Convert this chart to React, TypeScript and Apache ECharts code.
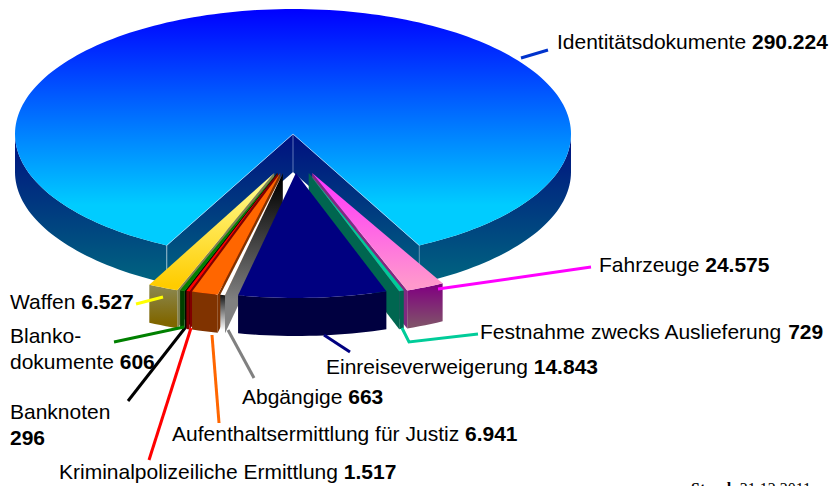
import React, { useEffect, useRef } from "react";
import * as echarts from "echarts";

const categories = [
  "Identitätsdokumente", "Fahrzeuge", "Festnahme zwecks Auslieferung", "Einreiseverweigerung",
  "Abgängige", "Aufenthaltsermittlung für Justiz", "Kriminalpolizeiliche Ermittlung",
  "Banknoten", "Blanko-\ndokumente", "Waffen",
];
const values = [290224, 24575, 729, 14843, 663, 6941, 1517, 296, 606, 6527];
// Angular width of each wedge as drawn in the picture (degrees); the picture is not proportional.
const drawnDegrees = [306, 8, 1, 31, 1, 5.5, 0.7, 0.2, 1, 6.3];
const lineBreakBeforeValue = [false, false, false, false, false, false, false, true, false, false];

// ---- geometry of the pseudo 3D pie ----
const CX = 293, CY = 134, RX = 278, RY = 125, DEPTH = 38;
const EXPLODE_X = 47, APEX_Y = 173, FIRST_ANGLE = 28;
const rad = (d: number) => (d * Math.PI) / 180;
const fmt = (v: number) => String(v).replace(/\B(?=(\d{3})+$)/g, ".");

const grad = (y0: number, y1: number, a: string, b: string) => ({
  type: "linear", x: 0, y: y0, x2: 0, y2: y1, global: true,
  colorStops: [{ offset: 0, color: a }, { offset: 1, color: b }],
});

const sliceStyles: any[] = [
  { top: grad(9, 205, "#0000ff", "#00ccff"), wall: grad(134, 285, "#001080", "#006680") },
  { top: grad(173, 285, "#ff33ff", "#ff99cc"), side: "#802a80", outer: grad(285, 325, "#800080", "#80506a") },
  { top: "#00cc99", side: "#006650", outer: "#006650" },
  { top: "#000080", side: "#000040", outer: "#000040" },
  { top: "#ffffff", side: grad(180, 300, "#000000", "#808080"), outer: grad(292, 330, "#000000", "#ffffff") },
  { top: "#ff6600", side: "#803300", outer: "#803300" },
  { top: "#ff0000", side: "#800000", outer: "#800000" },
  { top: "#000000", side: "#000000", outer: "#000000" },
  { top: "#008000", side: "#004000", outer: "#004000" },
  { top: grad(173, 285, "#ffff99", "#ffcc00"), side: "#808050", outer: grad(282, 322, "#8c8c5a", "#806600") },
];

const labelLayout: { x: number; y: number }[] = [
  { x: 557, y: 41 }, { x: 599, y: 264 }, { x: 480, y: 331 }, { x: 326, y: 366 }, { x: 242, y: 396 },
  { x: 172, y: 433 }, { x: 59, y: 471 }, { x: 10, y: 424 }, { x: 10, y: 348 }, { x: 10, y: 301 },
];
const leaderPoints: number[][][] = [
  [[521, 58], [548, 50]],
  [[438, 289], [591, 267]],
  [[402, 328], [409, 342], [478, 334]],
  [[324, 335], [350, 352]],
  [[228, 330], [254, 378]],
  [[212, 335], [219, 423]],
  [[191, 328], [149, 460]],
  [[185, 328], [128, 401]],
  [[184, 327], [114, 342]],
  [[163, 297], [136, 304]],
];
const leaderColors = ["#0033cc", "#ff00ff", "#00cc99", "#000080", "#808080", "#ff6600", "#ff0000", "#000000", "#008000", "#ffff00"];

// wedge limits, measured from the right side of the notch
const limits: number[][] = [];
{
  let a = FIRST_ANGLE;
  limits.push([27, 333]);
  for (let i = 1; i < drawnDegrees.length; i++) {
    limits.push([a - drawnDegrees[i], a]);
    a -= drawnDegrees[i];
  }
}

function arc(ax: number, ay: number, from: number, to: number, dy = 0) {
  const n = Math.max(2, Math.ceil(Math.abs(to - from) / 1.5));
  const pts: number[][] = [];
  for (let i = 0; i <= n; i++) {
    const t = rad(from + ((to - from) * i) / n);
    pts.push([ax + RX * Math.sin(t), ay + RY * Math.cos(t) + dy]);
  }
  return pts;
}
const poly = (points: number[][], fill: any, z2: number, stroke?: string) => ({
  type: "polygon", z2, shape: { points },
  style: { fill, stroke: stroke || "none", lineWidth: stroke ? 0.6 : 0 },
});
const segment = (a: number[], b: number[], stroke: string, z2: number, lineWidth = 0.8) => ({
  type: "line", z2, shape: { x1: a[0], y1: a[1], x2: b[0], y2: b[1] }, style: { stroke, lineWidth },
});

function renderSlice(i: number, value: number) {
  const st = sliceStyles[i];
  const [lo, hi] = limits[i];
  const kids: any[] = [];
  if (i === 0) {
    const a = [CX, CY];
    const c1 = arc(CX, CY, lo, lo)[0];
    const c2 = arc(CX, CY, hi, hi)[0];
    const down = (p: number[]) => [p[0], p[1] + DEPTH];
    const right = arc(CX, CY, lo, 90);
    const left = arc(CX, CY, 270, hi);
    kids.push(poly([...right, ...right.map(down).reverse()], st.wall, 1));
    kids.push(poly([...left, ...left.map(down).reverse()], st.wall, 1));
    kids.push(poly([a, c1, down(c1), down(a)], st.wall, 1));
    kids.push(poly([a, c2, down(c2), down(a)], st.wall, 1));
    kids.push(poly([a, ...arc(CX, CY, lo, hi)], st.top, 2));
    kids.push(segment(a, c1, "rgba(190,225,255,0.8)", 3));
    kids.push(segment(a, c2, "rgba(190,225,255,0.8)", 3));
    kids.push(segment(a, down(a), "rgba(170,190,230,0.7)", 3));
    kids.push(segment(c1, [c1[0], c1[1] + 30], "rgba(170,200,220,0.5)", 3));
    kids.push(segment(c2, [c2[0], c2[1] + 30], "rgba(220,235,240,0.8)", 3));
  } else {
    const mid = (lo + hi) / 2;
    const a = [CX + EXPLODE_X * Math.sin(rad(mid)), APEX_Y];
    // painter's order: the wedges farthest from the middle first
    const z = 10 + Math.round((40 - Math.abs(mid)) * 4);
    const down = (p: number[]) => [p[0], p[1] + DEPTH];
    const edge = arc(a[0], a[1], lo, hi);
    const inner = hi <= 0 ? hi : lo > 0 ? lo : null;
    if (inner !== null) {
      const c = arc(a[0], a[1], inner, inner)[0];
      kids.push(poly([a, c, down(c), down(a)], st.side, z));
    }
    kids.push(poly([...edge, ...edge.map(down).reverse()], st.outer, z));
    kids.push(poly([a, ...edge], st.top, z + 1));
  }
  // leader and label
  const pts = leaderPoints[i];
  kids.push({
    type: "polyline", z2: 500, shape: { points: pts },
    style: { stroke: leaderColors[i], lineWidth: 3, fill: "none" },
  });
  const sep = lineBreakBeforeValue[i] ? "\n" : " ";
  const names = categories[i].split("\n").map((s) => `{n|${s}}`).join("\n");
  kids.push({
    type: "text", z2: 600, x: labelLayout[i].x, y: labelLayout[i].y,
    style: {
      text: `${names}${sep === " " ? "{n| }" : sep}{v|${fmt(value)}}`,
      verticalAlign: "middle", align: "left",
      rich: {
        n: { fontFamily: "Liberation Sans", fontSize: 21, fill: "#000", lineHeight: 26 },
        v: { fontFamily: "Liberation Sans", fontSize: 21, fontWeight: "bold", fill: "#000", lineHeight: 26 },
      },
    },
  });
  return { type: "group", children: kids };
}

export default function App() {
  const ref = useRef<HTMLDivElement>(null);
  useEffect(() => {
    document.body.style.margin = "0";
    const chart = echarts.init(ref.current!, null, { renderer: "svg" });
    chart.setOption({
      animation: false,
      backgroundColor: "#ffffff",
      series: [
        {
          type: "custom",
          coordinateSystem: "none",
          silent: true,
          clip: false,
          data: categories.map((name, i) => ({ name, value: values[i] })),
          renderItem: (params: any, api: any) => renderSlice(params.dataIndex, api.value(0)),
        },
      ],
      graphic: [
        {
          type: "text", x: 691, y: 480,
          style: {
            text: "{b|Stand:} {r|31.12.2011}",
            rich: {
              b: { fontFamily: "Liberation Serif", fontSize: 16, fontWeight: "bold", fill: "#000" },
              r: { fontFamily: "Liberation Serif", fontSize: 16, fill: "#000" },
            },
          },
        },
      ],
    });
    return () => chart.dispose();
  }, []);
  return <div ref={ref} style={{ width: 830, height: 486 }} />;
}
